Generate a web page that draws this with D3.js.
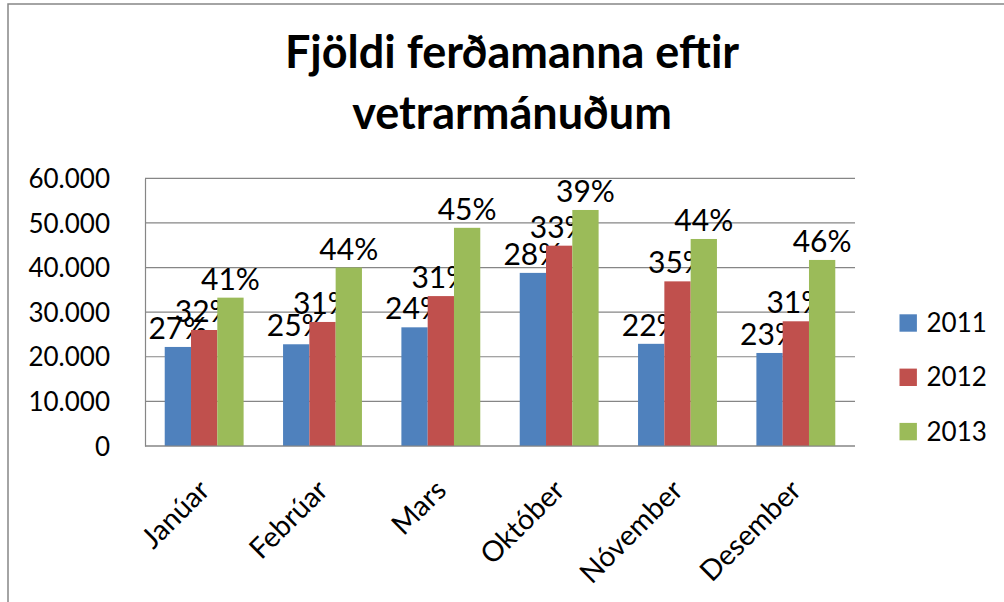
<!DOCTYPE html>
<html>
<head>
<meta charset="utf-8">
<script src="https://cdn.jsdelivr.net/npm/d3@7"></script>
<style>
  body { margin: 0; background: #fff; }
  text { font-family: Lato, "Open Sans", sans-serif; fill: #000; }
</style>
</head>
<body>
<div id="chart"></div>
<script>
// Mánuðir og ár
const months = ["Janúar", "Febrúar", "Mars", "Október", "Nóvember", "Desember"];
const years = ["2011", "2012", "2013"];

// Fjöldi ferðamanna (lesið af myndinni)
const values2011 = [22200, 22800, 26600, 38800, 22900, 20850];
const values2012 = [26000, 27800, 33600, 44900, 36900, 27950];
const values2013 = [33250, 40000, 48900, 52900, 46400, 41700];

// Prósentumerki á súlum
const pct2011 = ["27%", "25%", "24%", "28%", "22%", "23%"];
const pct2012 = ["32%", "31%", "31%", "33%", "35%", "31%"];
const pct2013 = ["41%", "44%", "45%", "39%", "44%", "46%"];

const yTicks = [0, 10000, 20000, 30000, 40000, 50000, 60000];
const yTickLabels = ["0", "10.000", "20.000", "30.000", "40.000", "50.000", "60.000"];

const colors = ["#4F81BD", "#C0504D", "#9BBB59"];
const series = [values2011, values2012, values2013];
const labels = [pct2011, pct2012, pct2013];

const width = 1004;
const height = 602;
const plot = { left: 145, right: 855, top: 178.3, bottom: 446 };

const svg = d3.select("#chart").append("svg")
    .attr("width", width)
    .attr("height", height);

svg.append("rect").attr("width", width).attr("height", height).attr("fill", "#fff");

// ramminn utan um grafið (aðeins efri og vinstri hlið sjást)
svg.append("rect")
    .attr("x", 8).attr("y", 4)
    .attr("width", 1100).attr("height", 700)
    .attr("fill", "none")
    .attr("stroke", "#868686")
    .attr("stroke-width", 1.5);

// titill
const title = svg.append("text")
    .attr("text-anchor", "middle")
    .style("font-weight", "bold")
    .style("font-size", "45px");
title.append("tspan").attr("x", 512).attr("y", 68).text("Fjöldi ferðamanna eftir");
title.append("tspan").attr("x", 512).attr("y", 129).text("vetrarmánuðum");

const x = d3.scaleBand().domain(months).range([plot.left, plot.right]);
const xInner = d3.scaleBand().domain(years).range([0, x.bandwidth()]).paddingOuter(0.75);
const y = d3.scaleLinear().domain([0, 60000]).range([plot.bottom, plot.top]);

// hnitalínur
svg.append("g")
    .selectAll("line")
    .data(yTicks)
    .enter()
    .append("line")
    .attr("x1", plot.left).attr("x2", plot.right)
    .attr("y1", d => y(d)).attr("y2", d => y(d))
    .attr("stroke", "#868686")
    .attr("stroke-width", 1.2);

// y-ás
const yAxis = svg.append("g")
    .attr("transform", `translate(${plot.left},0)`)
    .call(d3.axisLeft(y).tickValues(yTicks).tickSize(0).tickPadding(35)
        .tickFormat((d, i) => yTickLabels[i]));
yAxis.select(".domain").attr("stroke", "#868686").attr("stroke-width", 1.2);
yAxis.selectAll("text")
    .style("font-size", "26px")
    .style("font-family", "Lato, sans-serif")
    .attr("dy", "0.35em")
    .attr("fill", "#000");

// súlur
series.forEach((vals, s) => {
    const g = svg.append("g");
    g.selectAll("rect")
        .data(vals)
        .enter()
        .append("rect")
        .attr("x", (d, i) => x(months[i]) + xInner(years[s]))
        .attr("y", d => y(d))
        .attr("width", xInner.bandwidth())
        .attr("height", d => y(0) - y(d))
        .attr("fill", colors[s]);

    g.selectAll("text")
        .data(vals)
        .enter()
        .append("text")
        .attr("x", (d, i) => x(months[i]) + xInner(years[s]) + xInner.bandwidth() / 2)
        .attr("y", d => y(d) - 8)
        .attr("text-anchor", "middle")
        .style("font-size", "30px")
        .text((d, i) => labels[s][i]);
});

// x-ás
svg.append("line")
    .attr("x1", plot.left).attr("x2", plot.right)
    .attr("y1", plot.bottom).attr("y2", plot.bottom)
    .attr("stroke", "#868686")
    .attr("stroke-width", 1.2);

svg.append("g")
    .selectAll("text")
    .data(months)
    .enter()
    .append("text")
    .attr("transform", d => `translate(${x(d) + x.bandwidth() / 2},${plot.bottom + 39}) rotate(-45)`)
    .attr("text-anchor", "end")
    .attr("dy", "0.35em")
    .style("font-size", "28.5px")
    .text(d => d);

// skýringar
const legend = svg.append("g").attr("transform", "translate(899.5,323)");
years.forEach((yr, i) => {
    const row = legend.append("g").attr("transform", `translate(0,${i * 54.3})`);
    row.append("rect")
        .attr("x", 0).attr("y", -8.7)
        .attr("width", 17.4).attr("height", 17.4)
        .attr("fill", colors[i]);
    row.append("text")
        .attr("x", 27)
        .attr("dy", "0.35em")
        .style("font-size", "26px")
        .text(yr);
});
</script>
</body>
</html>
